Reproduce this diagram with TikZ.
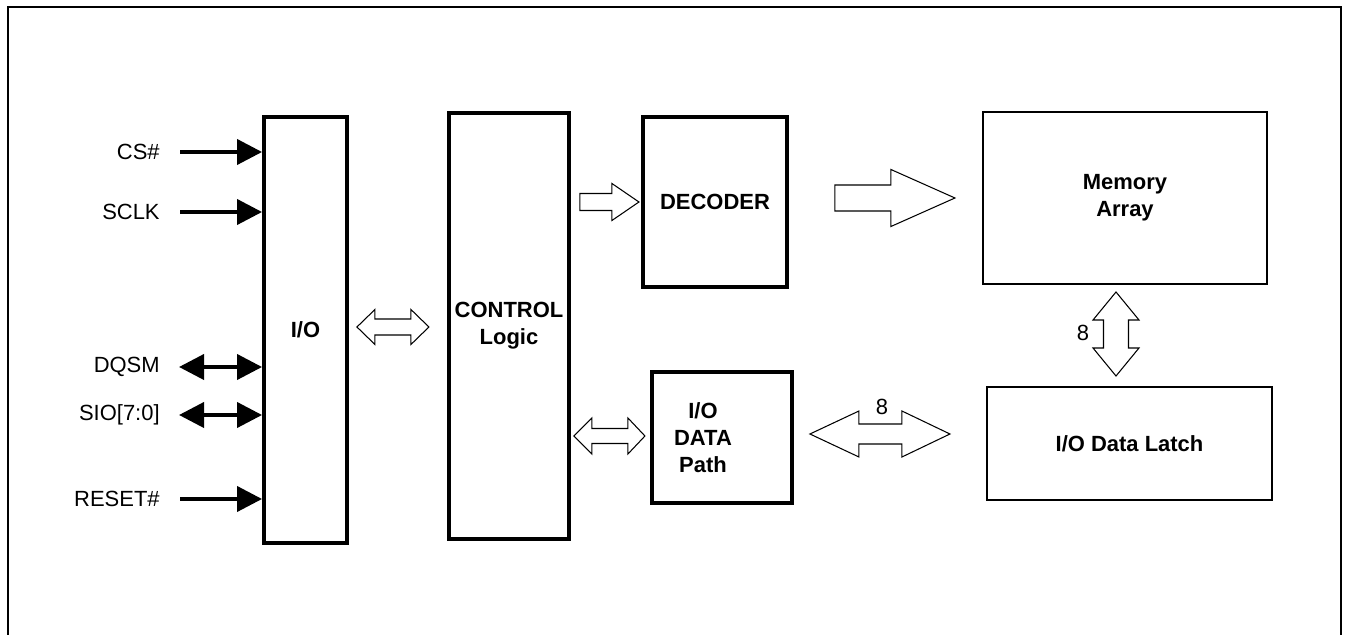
\documentclass[tikz,border=0pt]{standalone}
\usepackage{fontspec}
\setmainfont{Liberation Sans}
\usepackage{tikz}
\usetikzlibrary{arrows.meta, calc}

\begin{document}
\begin{tikzpicture}[x=0.2mm, y=-0.2mm, font=\fontsize{12.5}{15.5}\selectfont,
    blk/.style = {draw, line width=2.2pt, inner sep=0, align=center, font=\fontsize{12.5}{15.5}\selectfont\bfseries},
    thin/.style = {draw, line width=0.9pt, inner sep=0, align=center, font=\fontsize{12.5}{15.5}\selectfont\bfseries},
    sig/.style = {line width=2.2pt, -{Triangle[length=5mm, width=5mm]}, shorten <=4mm},
    bsig/.style = {line width=2.2pt, {Triangle[length=5mm, width=5mm]}-{Triangle[length=5mm, width=5mm]}, shorten <=3.8mm},
    hol/.style = {draw, line width=0.6pt, fill=white, line join=miter},
    pin/.style = {inner sep=0, anchor=east}]
            \useasboundingbox (0,0) rectangle (1348,635);
            \draw[line width=1pt] (8,635) -- (8,7) -- (1341,7) -- (1341,635);

            \node[blk, minimum width=16.6mm, minimum height=85.2mm] (io) at (305.5,330) {I/O};
            \node[blk, minimum width=24mm, minimum height=85.2mm] (ctrl) at (509,326) {CONTROL\\Logic};
            \node[blk, minimum width=28.8mm, minimum height=34mm] (dec) at (715,202) {DECODER};
            \node[blk, minimum width=28mm, minimum height=26.2mm,
                  label={[font=\fontsize{12.5}{15.5}\selectfont\bfseries, align=center, xshift=-3.8mm]center:I/O\\DATA\\Path}] (path) at (722,437.5) {};
            \node[thin, minimum width=56.8mm, minimum height=34.4mm] (mem) at (1125,198) {Memory\\Array};
            \node[thin, minimum width=57mm, minimum height=22.6mm] (latch) at (1129.5,443.5) {I/O Data Latch};

            \node[pin] (cs) at (160,152) {CS\#};
            \node[pin] (sclk) at (160,212) {SCLK};
            \node[pin] (dqsm) at (160,367) {DQSM};
            \node[pin] (sio) at (160,415) {SIO[7:0]};
            \node[pin] (rst) at (160,499) {RESET\#};

            \draw[sig] (cs.east) -- (cs.east -| io.west);
            \draw[sig] (sclk.east) -- (sclk.east -| io.west);
            \draw[bsig] (dqsm.east) -- (dqsm.east -| io.west);
            \draw[bsig] (sio.east) -- (sio.east -| io.west);
            \draw[sig] (rst.east) -- (rst.east -| io.west);

            % wide bus arrows
            \coordinate (b1) at ($(io.east)+(8,-3)$);
            \draw[hol] (b1) -- ++(18,-17.5) -- ++(0,9.5) -- ++(36,0) -- ++(0,-9.5) -- ++(18,17.5)
                -- ++(-18,17.5) -- ++(0,-9.5) -- ++(-36,0) -- ++(0,9.5) -- cycle;

            \coordinate (b2) at (ctrl.east |- dec.west);
            \draw[hol] ($(b2)+(9,-8.5)$) -- ++(32,0) -- ++(0,-10) -- ++(27,18.5) -- ++(-27,18.5)
                -- ++(0,-10) -- ++(-32,0) -- cycle;

            \coordinate (b3) at ($(dec.east)+(46,-4)$);
            \draw[hol] ($(b3)+(0,-13)$) -- ++(56,0) -- ++(0,-15.5) -- ++(64,28.5) -- ++(-64,28.5)
                -- ++(0,-15.5) -- ++(-56,0) -- cycle;

            \coordinate (b4) at ($(ctrl.east |- path.west)+(3,-1.5)$);
            \draw[hol] (b4) -- ++(18,-18) -- ++(0,10.5) -- ++(36,0) -- ++(0,-10.5) -- ++(17,18)
                -- ++(-17,18) -- ++(0,-10.5) -- ++(-36,0) -- ++(0,10.5) -- cycle;

            \coordinate (b5) at ($(path.east)+(16,-3.5)$);
            \draw[hol] (b5) -- ++(49,-23) -- ++(0,13) -- ++(43,0) -- ++(0,-13) -- ++(48,23)
                -- ++(-48,23) -- ++(0,-13) -- ++(-43,0) -- ++(0,13) -- cycle;
            \node at (882,407) {8};

            \coordinate (b6) at (1116,292);
            \draw[hol] (b6) -- ++(23,28) -- ++(-10.5,0) -- ++(0,28) -- ++(10.5,0) -- ++(-23,28)
                -- ++(-23,-28) -- ++(10.5,0) -- ++(0,-28) -- ++(-10.5,0) -- cycle;
            \node at (1083,333) {8};
        \end{tikzpicture}
\end{document}
